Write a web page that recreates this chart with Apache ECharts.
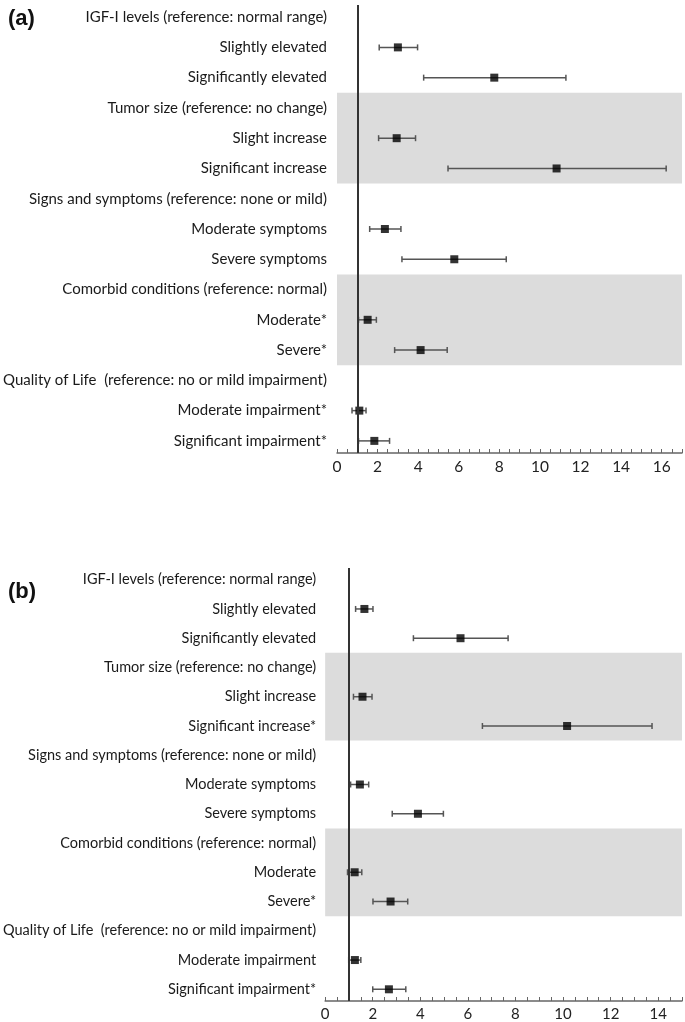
<!DOCTYPE html>
<html>
<head>
<meta charset="utf-8">
<script src="https://cdn.jsdelivr.net/npm/echarts@6/dist/echarts.min.js"></script>
<style>
html,body{margin:0;padding:0;background:#fff;}
#chart{width:685px;height:1022px;}
</style>
</head>
<body>
<div id="chart"></div>
<script>
const catsA = [
  "IGF-I levels (reference: normal range)",
  "Slightly elevated",
  "Significantly elevated",
  "Tumor size (reference: no change)",
  "Slight increase",
  "Significant increase",
  "Signs and symptoms (reference: none or mild)",
  "Moderate symptoms",
  "Severe symptoms",
  "Comorbid conditions (reference: normal)",
  "Moderate*",
  "Severe*",
  "Quality of Life  (reference: no or mild impairment)",
  "Moderate impairment*",
  "Significant impairment*"
];
const catsB = [
  "IGF-I levels (reference: normal range)",
  "Slightly elevated",
  "Significantly elevated",
  "Tumor size (reference: no change)",
  "Slight increase",
  "Significant increase*",
  "Signs and symptoms (reference: none or mild)",
  "Moderate symptoms",
  "Severe symptoms",
  "Comorbid conditions (reference: normal)",
  "Moderate",
  "Severe*",
  "Quality of Life  (reference: no or mild impairment)",
  "Moderate impairment",
  "Significant impairment*"
];
const meanA = [null, 3.0, 7.75, null, 2.94, 10.82, null, 2.36, 5.78, null, 1.51, 4.12, null, 1.10, 1.84];
const lowA  = [null, 2.08, 4.27, null, 2.05, 5.47, null, 1.61, 3.20, null, 1.06, 2.84, null, 0.74, 1.06];
const highA = [null, 3.97, 11.28, null, 3.87, 16.22, null, 3.15, 8.34, null, 1.94, 5.43, null, 1.43, 2.59];

const meanB = [null, 1.65, 5.69, null, 1.57, 10.17, null, 1.46, 3.90, null, 1.24, 2.75, null, 1.25, 2.68];
const lowB  = [null, 1.28, 3.71, null, 1.19, 6.61, null, 1.07, 2.82, null, 0.94, 2.01, null, 0.99, 2.00];
const highB = [null, 2.01, 7.69, null, 1.97, 13.74, null, 1.83, 4.97, null, 1.54, 3.47, null, 1.50, 3.39];

const bandRows = [[2.5, 5.5], [8.5, 11.5]];
const refValue = 1;
const xMaxA = 17, xMaxB = 15;
const rowIdx = catsA.map((_, i) => i);

const FONT = 'Lato';
const chart = echarts.init(document.getElementById('chart'), null, {renderer: 'canvas'});

function xAxisCfg(gi, max, fs) {
  return {
    type: 'value', gridIndex: gi, min: 0, max: max, interval: 0.5,
    axisLine: {show: true, onZero: false, lineStyle: {color: '#666', width: 1.5}},
    axisTick: {show: true, inside: true, length: 4, lineStyle: {color: '#666', width: 1}},
    splitLine: {show: false},
    axisLabel: {
      fontFamily: FONT, fontSize: fs, color: '#222', margin: 6,
      formatter: v => (Math.abs(v % 2) < 1e-9 ? String(v) : '')
    }
  };
}
function yAxisCfg(gi, cats, margin, fs) {
  return {
    type: 'value', gridIndex: gi, inverse: true, min: -0.4, max: 14.4,
    axisLine: {show: false}, axisTick: {show: false}, splitLine: {show: false},
    axisLabel: {
      customValues: rowIdx,
      fontFamily: FONT, fontSize: fs, color: '#1a1a1a', margin: margin,
      formatter: v => cats[Math.round(v)] || ''
    }
  };
}
function seriesFor(gi, mean, low, high) {
  const pts = [];
  const bars = [];
  mean.forEach((m, i) => {
    if (m != null) {
      pts.push([m, i]);
      bars.push([low[i], high[i], i]);
    }
  });
  return [
    {
      type: 'line', xAxisIndex: gi, yAxisIndex: gi, data: [], z: 1, silent: true,
      markArea: {
        silent: true,
        itemStyle: {color: '#dcdcdc'},
        data: bandRows.map(b => [{yAxis: b[0]}, {yAxis: b[1]}])
      }
    },
    {
      type: 'custom', xAxisIndex: gi, yAxisIndex: gi, z: 2, silent: true,
      data: bars,
      renderItem: function (params, api) {
        const p1 = api.coord([api.value(0), api.value(2)]);
        const p2 = api.coord([api.value(1), api.value(2)]);
        const cap = 3;
        const st = {stroke: '#555', lineWidth: 1.5};
        return {
          type: 'group',
          children: [
            {type: 'line', shape: {x1: p1[0], y1: p1[1], x2: p2[0], y2: p2[1]}, style: st},
            {type: 'line', shape: {x1: p1[0], y1: p1[1] - cap, x2: p1[0], y2: p1[1] + cap}, style: st},
            {type: 'line', shape: {x1: p2[0], y1: p2[1] - cap, x2: p2[0], y2: p2[1] + cap}, style: st}
          ]
        };
      }
    },
    {
      type: 'scatter', xAxisIndex: gi, yAxisIndex: gi, z: 3, silent: true,
      symbol: 'rect', symbolSize: 8,
      itemStyle: {color: '#000'},
      data: pts,
      markLine: {
        silent: true, symbol: 'none', label: {show: false},
        lineStyle: {color: '#333', width: 2, type: 'solid'},
        data: [{xAxis: refValue}]
      }
    }
  ];
}

chart.setOption({
  animation: false,
  backgroundColor: '#fff',
  title: [
    {text: '(a)', left: 3, top: 3, textStyle: {fontFamily: 'Liberation Sans', fontWeight: 'bold', fontSize: 22, color: '#111'}},
    {text: '(b)', left: 3, top: 576, textStyle: {fontFamily: 'Liberation Sans', fontWeight: 'bold', fontSize: 22, color: '#111'}}
  ],
  grid: [
    {left: 337, right: 3, top: 5, height: 448},
    {left: 324, right: 1, top: 568, height: 435}
  ],
  xAxis: [xAxisCfg(0, xMaxA, 15.5), xAxisCfg(1, xMaxB, 15)],
  yAxis: [yAxisCfg(0, catsA, 10, 15), yAxisCfg(1, catsB, 9, 14.5)],
  series: [].concat(seriesFor(0, meanA, lowA, highA), seriesFor(1, meanB, lowB, highB))
});
</script>
</body>
</html>
